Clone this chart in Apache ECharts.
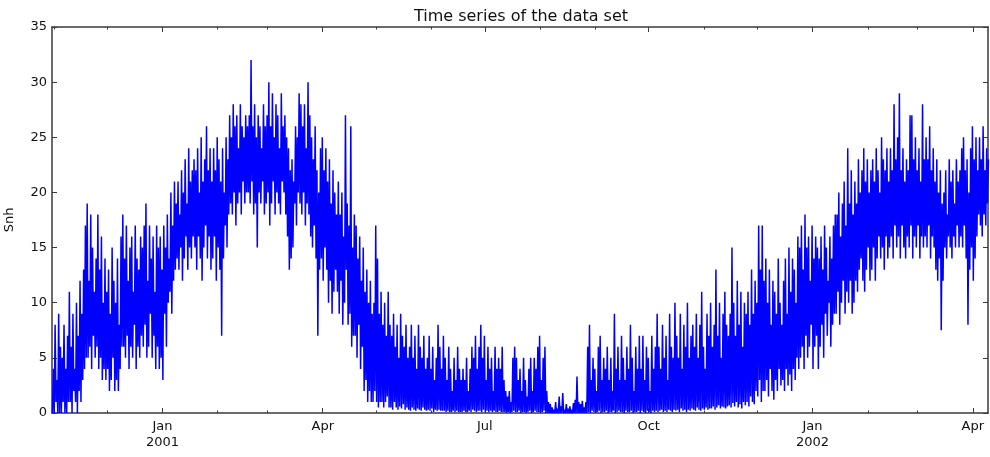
<!DOCTYPE html>
<html>
<head>
<meta charset="utf-8">
<script src="https://cdn.jsdelivr.net/npm/echarts@6/dist/echarts.min.js"></script>
<style>html,body{margin:0;padding:0;background:#fff}#c{width:990px;height:457px}</style>
</head>
<body>
<div id="c"></div>
<script>
// Daily readings from the picture (first day: 2000-10-31)
const startDate = '2000-10-31';
const dailyHigh = [
 4,8,3,9,6,5,8,4,7,11, 6,9,4,10,7,12,9,13,17,19, 12,18,15,11,14,18,13,16,10,14, 11,13,9,15,12,10,14,8,16,18,
 14,17,12,15,16,11,17,14,13,16, 15,17,19,12,17,14,16,11,17,15, 16,13,17,15,18,14,20,17,21,19, 21,18,22,20,23,19,24,21,22,23,
 22,24,20,25,21,23,26,22,24,21, 24,22,25,23,21,24,20,25,23,27, 25,28,26,27,24,28,26,25,27,26, 27,32,26,28,25,27,26,24,28,26,
 27,30,26,29,25,28,27,24,29,26, 27,25,24,22,23,21,26,25,29,28, 26,28,24,30,27,25,23,26,22,20, 24,25,22,24,21,23,19,22,20,18,
 21,18,20,16,27,19,17,26,15,18, 17,14,16,12,15,11,13,10,12,9, 10,17,14,9,11,8,10,7,11,8, 7,9,6,8,5,9,7,6,8,5,
 6,8,5,7,4,8,6,5,7,4, 5,7,4,6,3,5,8,6,4,7, 5,3,6,4,2,5,3,6,4,3, 4,3,5,2,4,6,5,7,4,6,
 8,5,7,3,6,4,5,2,6,4, 5,4,6,3,2,1.5,2,1,5,6, 5,3,4,2,5,3,1.5,4,5,2, 5,4,6,7,3,5,6,2,1,0.8,
 0.5,0.3,1,0.4,1.5,0.6,1.8,0.3,0.8,0.4, 0.6,0.3,0.9,1.2,3.3,1,0.8,1.1,0.5,1, 6,8,3,5,4,2,6,7,3,5, 4,6,3,5,2,9,4,6,3,7,
 5,3,6,4,8,5,2,6,4,7, 4,7,3,6,5,2,7,4,6,9, 6,4,8,5,7,3,9,6,5,10, 7,5,9,4,8,6,10,5,7,8,
 6,9,5,8,11,6,4,9,7,10, 6,8,13,7,10,5,9,11,8,7, 9,15,10,7,12,8,11,6,10,9, 11,8,13,9,12,10,17,13,17,12,
 14,10,13,8,12,11,9,14,10,8, 12,14,9,15,11,14,13,10,16,15, 17,13,18,15,16,12,17,14,16,15, 14,16,13,17,15,12,16,14,17,18,
 18,20,16,19,21,17,24,19,22,18, 21,19,23,20,22,24,21,23,20,22, 23,21,24,22,20,25,23,22,24,21, 24,22,28,23,25,29,22,24,21,23,
 22,27,27,23,25,22,24,21,28,23, 25,23,26,22,24,21,23,20,22,19, 20,22,18,23,21,22,19,23,21,22, 24,25,22,23,20,24,26,23,25,22,
 25,23,26,22,24,23
];
const dailyLow = [
 0,0,1,0,0,0,1,0,0,1, 1,0,2,1,0,2,1,3,4,5, 5,6,4,7,5,6,4,5,3,4, 3,4,2,3,5,2,3,2,4,6,
 6,5,7,4,6,5,8,4,6,5, 7,6,8,5,6,9,5,7,4,6, 4,5,3,9,6,10,11,9,12,13, 14,13,15,12,14,16,13,15,14,16,
 15,13,16,14,12,15,17,14,16,13, 14,16,12,15,13,7,14,17,15,18, 19,18,20,17,19,20,18,21,19,20, 20,19,21,18,19,15,20,19,21,18,
 19,20,17,19,21,18,20,19,18,21, 20,18,16,13,14,15,19,17,20,19, 18,20,17,19,18,16,15,17,14,7, 13,14,12,15,13,10,12,9,11,13,
 11,9,12,8,10,13,8,9,6,7, 7,5,8,4,6,2,3,1,2,1, 1,2,1,0.5,1,1,0.5,1,1.5,0.5, 0.5,0.3,1,0.5,0.3,0.6,0.4,0.8,0.3,0.5,
 0.3,0.2,0.5,0.3,0.2,0.4,0.3,0.2,0.5,0.3, 0.2,0.3,0.2,0.4,0.1,0.3,0.2,0.3,0.2,0.2, 0.2,0.1,0.2,0.1,0.1,0.2,0.1,0.2,0.1,0.1, 0.1,0.2,0.1,0.1,0.2,0.1,0.3,0.2,0.1,0.2,
 0.2,0.1,0.3,0.1,0.2,0.1,0.2,0.1,0.2,0.1, 0.1,0.2,0.1,0.1,0.1,0,0.1,0,0.1,0.2, 0.1,0.1,0.2,0,0.1,0.1,0,0.1,0.2,0, 0.1,0.2,0.1,0.1,0,0.1,0.2,0,0,0,
 0,0,0,0,0,0,0,0,0,0, 0,0,0,0,0,0,0,0,0,0, 0,0.1,0,0.2,0.1,0,0.1,0.2,0,0.1, 0.1,0.2,0,0.1,0.1,0.2,0,0.1,0.2,0.1,
 0.1,0,0.2,0.1,0.1,0.2,0,0.1,0.1,0.2, 0,0.2,0.1,0,0.2,0.1,0,0.2,0.1,0.2, 0.1,0.2,0.3,0.1,0.2,0.1,0.3,0.2,0.1,0.3, 0.2,0.3,0.1,0.4,0.2,0.3,0.1,0.3,0.2,0.4,
 0.3,0.2,0.5,0.3,0.2,0.4,0.3,0.5,0.3,0.4, 0.4,0.6,0.3,0.5,0.7,0.4,0.6,0.5,0.4,0.6, 0.7,0.5,0.9,0.6,1,0.5,0.8,0.4,1,0.7, 1,0.6,1.5,1,0.8,2,1.5,3,1,2,
 2,3,1.5,4,2,1.2,3,2,4,2.5, 3,2,4,2.5,3.5,2,4,3,5,4, 5,6,4,7,5,6,8,4,6,7, 4,6,8,5,9,7,10,6,8,9,
 9,11,8,10,12,9,11,10,12,9, 10,12,11,13,14,12,11,13,15,12, 13,15,12,14,16,14,15,13,16,14, 15,16,14,17,15,16,14,17,15,14,
 16,15,17,14,16,15,17,14,16,15, 16,15,17,14,16,15,13,12,14,7.5, 12,15,14,16,15,14,16,15,17,15, 16,15,17,14,8,13,15,12,14,16,
 18,17,16,18,17,19
];
const majorTickDates = ['2001-01-01','2001-04-01','2001-07-01','2001-10-01','2002-01-01','2002-04-01'];
const minorTickDates = ['2000-11-01','2000-12-01','2001-02-01','2001-03-01','2001-05-01','2001-06-01','2001-08-01','2001-09-01','2001-11-01','2001-12-01','2002-02-01','2002-03-01'];
const monthNames = ['Jan','Feb','Mar','Apr','May','Jun','Jul','Aug','Sep','Oct','Nov','Dec'];
const yTicks = [0,5,10,15,20,25,30,35];
const titleText = 'Time series of the data set';
const yName = 'Snh';

const DAY = 86400000;
const toTs = s => Date.parse(s + 'T00:00:00Z');
const T0 = toTs(startDate);
const T1 = T0 + 525.5 * DAY;
const seriesData = [];
for (let d = 0; d < dailyHigh.length; d++) {
  seriesData.push([T0 + (d + 0.25) * DAY, dailyLow[d]]);
  seriesData.push([T0 + (d + 0.75) * DAY, dailyHigh[d]]);
}
const major = majorTickDates.map(toTs);
const minor = minorTickDates.map(toTs);
const FONT = 'DejaVu Sans';
const lineC = '#3a3a3a';

function xAx(pos, ticks, len, showLine, showLabel) {
  return {
    type: 'value', min: T0, max: T1, position: pos, scale: true,
    axisLine: { show: showLine, onZero: false, lineStyle: { color: lineC, width: 1.5 } },
    axisTick: { show: true, inside: true, length: len, customValues: ticks, lineStyle: { color: lineC, width: 1 } },
    axisLabel: showLabel ? {
      customValues: ticks, color: '#111', fontFamily: FONT, fontSize: 13, lineHeight: 16, margin: 6,
      formatter: v => { const dt = new Date(v); const m = dt.getUTCMonth(); return m === 0 ? monthNames[m] + '\n' + dt.getUTCFullYear() : monthNames[m]; }
    } : { show: false },
    splitLine: { show: false }
  };
}
function yAx(pos, showLabel) {
  return {
    type: 'value', min: yTicks[0], max: yTicks[yTicks.length - 1], interval: 5, position: pos,
    name: showLabel ? yName : '', nameLocation: 'middle', nameGap: 36, nameRotate: 90, nameMoveOverlap: false,
    nameTextStyle: { color: '#111', fontFamily: FONT, fontSize: 13 },
    axisLine: { show: true, lineStyle: { color: lineC, width: 1.5 } },
    axisTick: { show: true, inside: true, length: 5, lineStyle: { color: lineC, width: 1 } },
    axisLabel: { show: showLabel, color: '#111', fontFamily: FONT, fontSize: 13, margin: 5 },
    splitLine: { show: false }
  };
}

const chart = echarts.init(document.getElementById('c'), null, { renderer: 'canvas' });
chart.setOption({
  animation: false,
  backgroundColor: '#fff',
  grid: { left: 52, right: 2, top: 27, bottom: 44, containLabel: false, outerBoundsMode: 'none' },
  graphic: [{ type: 'text', x: 521, y: 17, style: { text: titleText, textAlign: 'center', textVerticalAlign: 'middle', font: '16px "DejaVu Sans"', fill: '#111' } }],
  xAxis: [
    xAx('bottom', major, 5, true, true),
    xAx('bottom', minor, 2.5, false, false),
    xAx('top', major, 5, true, false),
    xAx('top', minor, 2.5, false, false)
  ],
  yAxis: [yAx('left', true), yAx('right', false)],
  series: [{
    type: 'line', xAxisIndex: 0, yAxisIndex: 0, data: seriesData, showSymbol: false, symbol: 'none',
    lineStyle: { color: '#0000ff', width: 1.5 }, clip: true
  }]
});
</script>
</body>
</html>
